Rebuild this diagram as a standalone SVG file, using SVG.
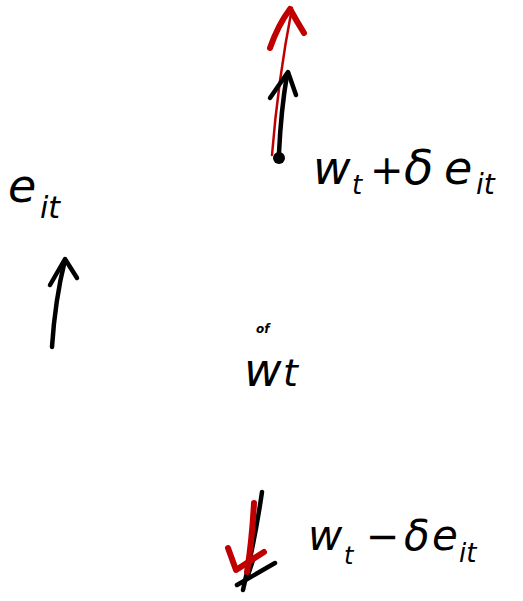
<svg xmlns="http://www.w3.org/2000/svg" width="523" height="601" viewBox="0 0 523 601">
<style>
.ink{fill:none;stroke:#000;stroke-width:4.5;stroke-linecap:round;stroke-linejoin:round}
.red{fill:none;stroke:#c00000;stroke-linecap:round;stroke-linejoin:round}
.lbl{font-family:"DejaVu Sans","Liberation Sans",sans-serif;font-style:italic;fill:#000}
</style>
<rect width="523" height="601" fill="#fff"/>
<g id="connectors">
<path class="red" stroke-width="2.5" d="M272,155 Q278,80 292,8"/>
<path class="red" stroke-width="6" d="M270,48 Q278,25 290,9 Q296,20 304,33"/>
<path class="ink" d="M279,153 Q281,110 287,75"/>
<path class="ink" d="M270,98 L288,72 L296,95"/>
<circle cx="279" cy="158" r="6" fill="#000"/>
<path class="ink" d="M52,347 Q55,300 65,260"/>
<path class="ink" d="M50,285 L65,259 L77,278"/>
<path class="ink" d="M262,492 Q255,540 243,590"/>
<path class="ink" stroke-width="3" d="M237,585 L275,563 M248,575 L253,560"/>
<path class="red" stroke-width="6" d="M254,503 Q252,540 247,572"/>
<path class="red" stroke-width="6" d="M228,548 L236,570 L264,552"/>
</g>
<g id="node-plus">
<text class="lbl" font-size="46" x="313" y="184">w</text>
<text class="lbl" font-size="26" x="352" y="194">t</text>
<text class="lbl" font-size="40" x="370" y="184">+</text>
<text class="lbl" font-size="48" x="404" y="184">δ</text>
<text class="lbl" font-size="46" x="444" y="184">e</text>
<text class="lbl" font-size="28" x="476" y="194">it</text>
</g>
<g id="node-eit">
<text class="lbl" font-size="46" x="8" y="202">e</text>
<text class="lbl" font-size="30" x="40" y="218">it</text>
</g>
<g id="node-wt">
<text class="lbl" font-size="12" font-weight="bold" x="256" y="333">of</text>
<text class="lbl" font-size="46" x="244" y="386">w</text>
<text class="lbl" font-size="38" x="283" y="386">t</text>
</g>
<g id="node-minus">
<text class="lbl" font-size="42" x="308" y="550">w</text>
<text class="lbl" font-size="24" x="344" y="564">t</text>
<text class="lbl" font-size="40" x="366" y="550">−</text>
<text class="lbl" font-size="42" x="404" y="550">δ</text>
<text class="lbl" font-size="42" x="432" y="550">e</text>
<text class="lbl" font-size="26" x="459" y="562">it</text>
</g>
</svg>
